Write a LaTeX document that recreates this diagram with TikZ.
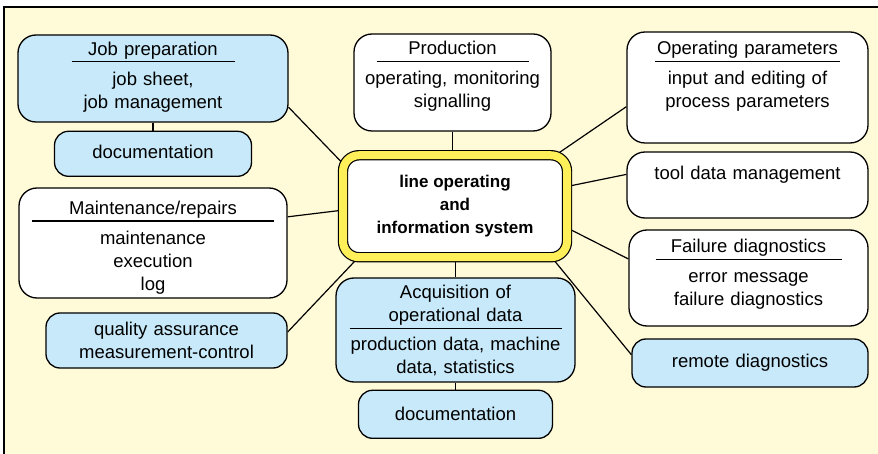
\documentclass[tikz,border=0pt]{standalone}
\usepackage{fontspec}
\setmainfont{Liberation Sans}
\usetikzlibrary{positioning,backgrounds}

\definecolor{bgyellow}{RGB}{255,250,216}
\definecolor{boxblue}{RGB}{199,233,249}
\definecolor{hubyellow}{RGB}{255,240,90}

% title line with a rule under it
\newcommand{\boxhead}[2]{#1\\[-16pt]\rule{#2}{1.2pt}\\[0pt]}
% extra room above / below the text of a box
\newcommand{\gap}[1]{\par\kern#1}

\begin{document}
\begin{tikzpicture}[x=1pt, y=-1pt, node distance={8pt},
    box/.style = {draw, line width=1.3pt, fill=white, rounded corners=18pt, align=center,
                  inner xsep=4pt, inner ysep=0pt, font=\fontsize{18.5}{23}\selectfont},
    bluebox/.style = {box, fill=boxblue},
    hub/.style = {draw, line width=1.2pt, double=hubyellow, double distance=8pt, fill=white,
                  rounded corners=16pt, minimum width=224pt, minimum height=102pt, align=center,
                  font=\bfseries\fontsize{17}{23}\selectfont},
    link/.style = {line width=1.2pt}]
    \useasboundingbox (0,0) rectangle (878,454);

    \node[hub] (hub) at (455,206.25) {line operating\\and\\information system};

    \node[bluebox, text width=262pt, minimum height=87pt] (jobprep) at (153,78.5)
        {\boxhead{Job preparation}{163pt}job sheet,\\job management\gap{3pt}};
    \node[bluebox, text width=189pt, minimum height=45pt, rounded corners=14pt] (jobdoc) [below=of jobprep] {documentation\gap{3pt}};
    \node[box, text width=189pt, minimum height=97pt] (prod) at (452.5,82.5)
        {\boxhead{Production}{152pt}operating, monitoring\\signalling\gap{12pt}};
    \node[box, text width=233pt, minimum height=111pt] (oppar) at (747.5,87.5)
        {\boxhead{Operating parameters}{185pt}input and editing of\\process parameters\gap{22pt}};
    \node[box, text width=233pt, minimum height=66pt] (tool) at (747.5,185)
        {tool data management\gap{21pt}};
    \node[box, text width=231pt, minimum height=96pt] (fail) at (748.5,278)
        {\boxhead{Failure diagnostics}{186pt}error message\\failure diagnostics\gap{7pt}};
    \node[bluebox, text width=228pt, minimum height=48pt, rounded corners=14pt] (remote) at (750,363) {remote diagnostics};
    \node[box, text width=260pt, minimum height=110pt] (maint) at (153,243)
        {\gap{0pt}\boxhead{Maintenance/repairs}{242pt}maintenance\\execution\\log};
    \node[bluebox, text width=233pt, minimum height=55pt, rounded corners=14pt] (quality) at (166.5,340.5)
        {quality assurance\\measurement-control};
    \node[bluebox, text width=231pt, minimum height=104pt] (acq) at (455.5,330)
        {Acquisition of\\operational data\\[-15pt]\rule{212pt}{1.2pt}\\[-2pt]production data, machine\\data, statistics};
    \node[bluebox, text width=186pt, minimum height=48pt, rounded corners=14pt] (acqdoc) [below=7pt of acq] {documentation};

    \begin{scope}[on background layer]
        \fill[bgyellow] (4,7) rectangle (878,454);
        \draw[line width=1.6pt] (878,7) -- (4,7) -- (4,454);

        \path[link] (jobprep) edge (jobdoc);
        \path[link] (jobprep.-12) edge (hub.159);
        \path[link] (prod) edge (prod |- hub.north);
        \path[link] (hub.27) edge (oppar.189);
        \path[link] (hub.10) edge (tool.175);
        \path[link] (hub.-11) edge (fail.171);
        \path[link] (hub.-28) edge (remote.176);
        \path[link] (maint.11) edge (hub.182);
        \path[link] (quality.4) edge (hub.208);
        \path[link] (acq) edge (acq |- hub.south);
        \path[link] (acq) edge (acqdoc);
    \end{scope}
\end{tikzpicture}
\end{document}
